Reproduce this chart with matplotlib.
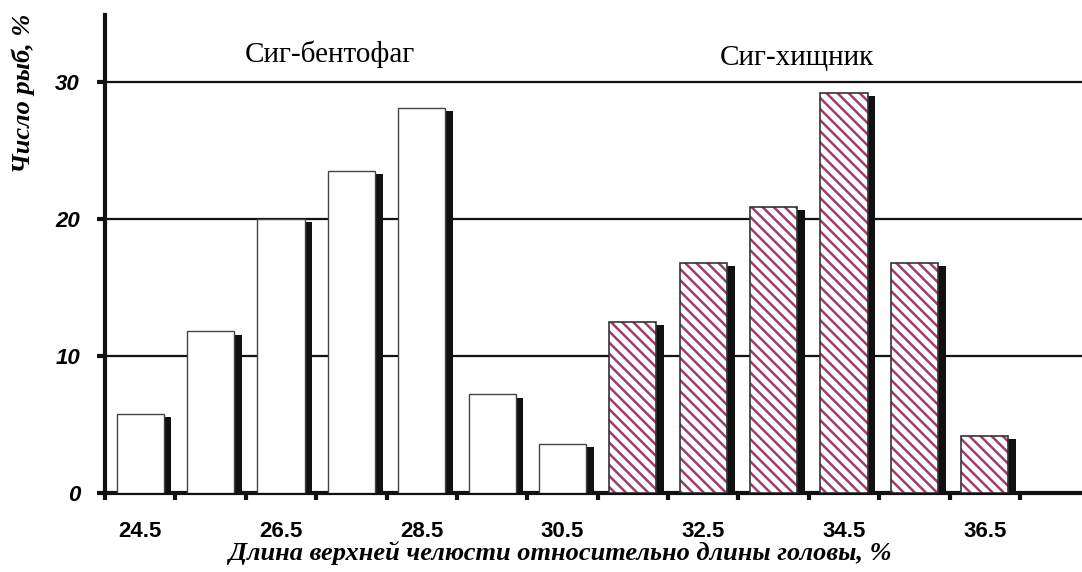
import matplotlib
matplotlib.use('Agg')
import matplotlib.pyplot as plt
import numpy as np

# bin centres and fish counts (%)
bins = [24.5, 25.5, 26.5, 27.5, 28.5, 29.5, 30.5, 31.5, 32.5, 33.5, 34.5, 35.5, 36.5]
benthos = [5.8, 11.8, 20.0, 23.5, 28.1, 7.2, 3.6]
predator = [12.5, 16.8, 20.9, 29.2, 16.8, 4.2]
xlabels = ['24.5', '26.5', '28.5', '30.5', '32.5', '34.5', '36.5']
yticks = [0, 10, 20, 30]

plt.rcParams['hatch.linewidth'] = 1.8
plt.rcParams['hatch.color'] = '#9c3d6e'

fig = plt.figure(figsize=(10.82, 5.72), dpi=100)
ax = fig.add_axes([0.097, 0.138, 0.903, 0.836])

x_b = np.array(bins[:len(benthos)])
x_p = np.array(bins[len(benthos):])
w = 0.67
dx, dy = 0.11, 0.25

### shadows
ax.bar(x_b + dx, benthos, width=w, bottom=-dy, color='#111111', zorder=2)
ax.bar(x_p + dx, predator, width=w, bottom=-dy, color='#111111', zorder=2)

### bars
ax.bar(x_b, benthos, width=w, color='white', edgecolor='#444444', linewidth=1.0, zorder=3)
ax.bar(x_p, predator, width=w, color='white', edgecolor='#9c3d6e', linewidth=0, hatch='\\\\\\', zorder=3)
ax.bar(x_p, predator, width=w, fill=False, edgecolor='#333333', linewidth=1.2, zorder=4)

### grid lines
for v in yticks[1:]:
    ax.axhline(v, color='#111111', lw=1.6, zorder=1)

ax.set_xlim(24, 37.88)
ax.set_ylim(0, 34.9)

for s in ['top', 'right']:
    ax.spines[s].set_visible(False)
ax.spines['left'].set_linewidth(3)
ax.spines['bottom'].set_linewidth(3)
ax.spines['left'].set_color('#111111')
ax.spines['bottom'].set_color('#111111')

ax.set_yticks(yticks)
ax.set_yticklabels([str(v) for v in yticks], fontfamily='Liberation Sans',
                   fontweight='bold', fontstyle='italic', fontsize=16)
ax.tick_params(axis='y', direction='out', length=6, width=3, pad=12, color='#111111')

ax.set_xticks(np.arange(24, 38))
ax.set_xticklabels([])
ax.tick_params(axis='x', which='major', direction='out', length=5, width=3, color='#111111')
ax.set_xticks(bins[::2], minor=True)
ax.set_xticklabels(xlabels, minor=True, fontfamily='Liberation Sans',
                   fontweight='bold', fontsize=16)
ax.tick_params(axis='x', which='minor', length=0, pad=20)

ax.set_ylabel('Число рыб, %', fontfamily='Liberation Serif', fontweight='bold',
              fontstyle='italic', fontsize=19)
ax.yaxis.set_label_coords(-0.072, 0.835)
ax.set_xlabel('Длина верхней челюсти относительно длины головы, %',
              fontfamily='Liberation Serif', fontweight='bold', fontstyle='italic', fontsize=19)
ax.xaxis.set_label_coords(0.466, -0.1)

ax.text(27.2, 32.0, 'Сиг-бентофаг', fontfamily='Liberation Serif', fontsize=21,
        ha='center', va='center')
ax.text(33.83, 31.75, 'Сиг-хищник', fontfamily='Liberation Serif', fontsize=21,
        ha='center', va='center')

fig.savefig('out.png', dpi=100)
